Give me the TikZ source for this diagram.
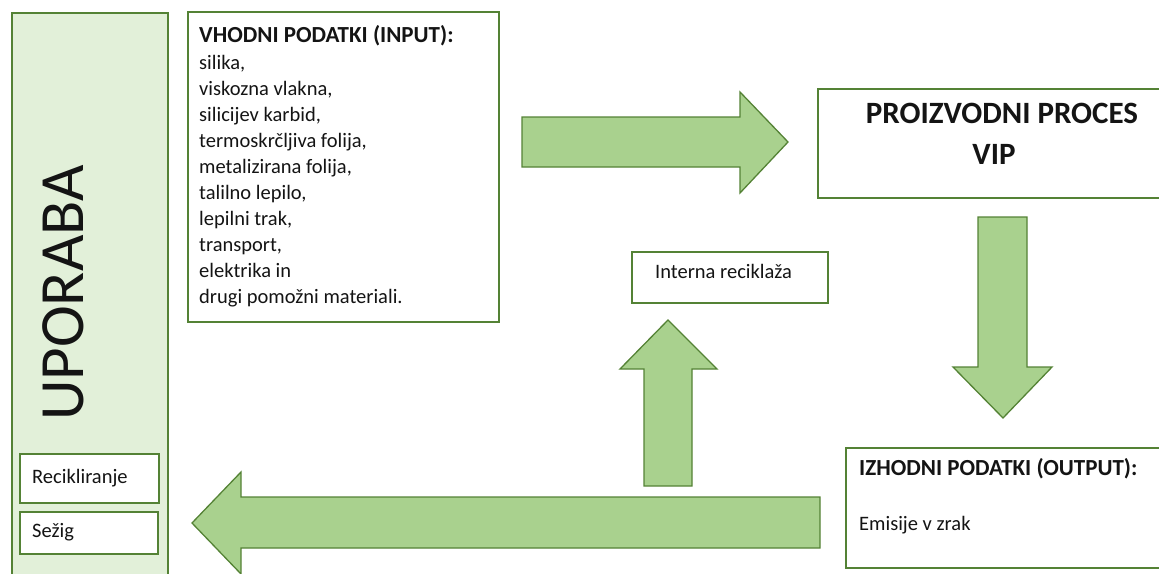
\documentclass[tikz,border=0pt]{standalone}
\usepackage{fontspec}
\setmainfont{Carlito}
\definecolor{gborder}{HTML}{548235}
\definecolor{gfill}{HTML}{A9D18E}
\definecolor{glight}{HTML}{E2F0D9}
\definecolor{txt}{HTML}{141414}
\tikzset{
  box/.style={draw=gborder, line width=1.5pt, fill=white, inner sep=0pt, anchor=north west},
  blockarrow/.style={draw=gborder, line width=1.3pt, fill=gfill, line join=miter},
  body/.style={inner sep=0pt, anchor=base west, text=txt, font=\fontsize{20.5}{25.9}\selectfont, align=left},
  title/.style={inner sep=0pt, anchor=base west, text=txt, font=\fontsize{23}{28}\selectfont\bfseries},
}
\begin{document}
\begin{tikzpicture}[x=1pt,y=-1pt]
\useasboundingbox (0,0) rectangle (1159,573);
% UPORABA column
\node[box, fill=glight, minimum width=156pt, minimum height=580pt] (uporaba) at (11,12) {};
\node[inner sep=0pt, rotate=90, anchor=base, text=txt, font=\fontsize{63}{70}\selectfont] (uporabatxt) at (83,293) {UPORABA};
\node[box, minimum width=139pt, minimum height=49pt] (recbox) at (19,453) {};
\node[body] (rectxt) at (32,483) {Recikliranje};
\node[box, minimum width=138pt, minimum height=42pt] (sezbox) at (19,511) {};
\node[body] (seztxt) at (32,537) {Sežig};
% Input
\node[box, minimum width=311pt, minimum height=310pt] (input) at (187,11) {};
\node[title] (inputtitle) at (199,42) {VHODNI PODATKI (INPUT):};
% anchor base = baseline of the last line
\node[body] (inputlist) at (199,303) {silika,\\ viskozna vlakna,\\ silicijev karbid,\\ termoskrčljiva folija,\\ metalizirana folija,\\ talilno lepilo,\\ lepilni trak,\\ transport,\\ elektrika in\\ drugi pomožni materiali.};
% Process
\node[box, minimum width=360pt, minimum height=109pt] (proc) at (817,88) {};
\node[inner sep=0pt, anchor=base, text=txt, align=center, font=\fontsize{31}{41}\selectfont\bfseries] (proctxt) at (1002,164) {PROIZVODNI PROCES\\ VIP\hspace*{16pt}};
% Interna reciklaza
\node[box, minimum width=196pt, minimum height=51pt] (interna) at (631,251) {};
\node[body] (internatxt) at (655,278) {Interna reciklaža};
% Output
\node[box, minimum width=330pt, minimum height=120pt] (output) at (845,447) {};
\node[title] (outputtitle) at (859,475) {IZHODNI PODATKI (OUTPUT):};
\node[body] (outputtxt) at (859,530) {Emisije v zrak};
% Block arrows
\draw[blockarrow] (522,117) -- (740,117) -- (740,92) -- (788,142) -- (740,193) -- (740,167) -- (522,167) -- cycle;
\draw[blockarrow] (978,217) -- (1027,217) -- (1027,367) -- (1052,367) -- (1003,418) -- (953,367) -- (978,367) -- cycle;
\draw[blockarrow] (644,486) -- (644,369) -- (620,369) -- (668,320) -- (717,369) -- (692,369) -- (692,486) -- cycle;
\draw[blockarrow] (820,497) -- (241,497) -- (241,472) -- (192,523) -- (241,574) -- (241,548) -- (820,548) -- cycle;
\end{tikzpicture}
\end{document}
